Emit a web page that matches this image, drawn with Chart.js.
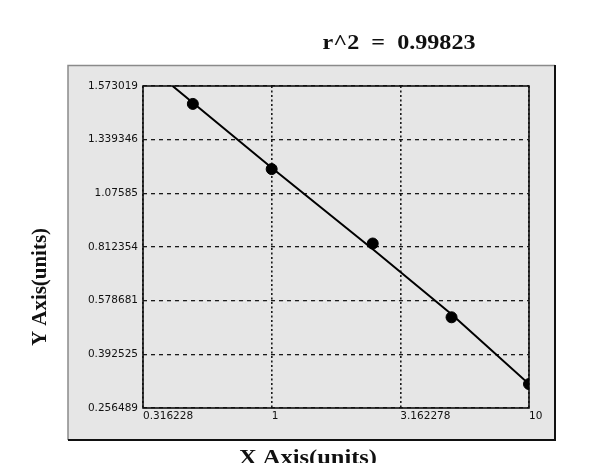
<!DOCTYPE html>
<html><head><meta charset="utf-8">
<script src="https://cdn.jsdelivr.net/npm/chart.js@4"></script>
<style>html,body{margin:0;padding:0;background:#fff;}canvas{display:block}</style>
</head><body>
<canvas id="c" width="600" height="463"></canvas>
<script>
const titleText = 'r^2  =  0.99823';
const xAxisTitle = 'X Axis(units)';
const yAxisTitle = 'Y Axis(units)';
const xTickValues = [0.316228, 1, 3.162278, 10];
const xTickLabels = ['0.316228', '1', '3.162278', '10'];
const yTickValues = [0.256489, 0.392525, 0.578681, 0.812354, 1.07585, 1.339346, 1.573019];
const yTickLabels = ['0.256489', '0.392525', '0.578681', '0.812354', '1.07585', '1.339346', '1.573019'];
const stdX = [0.494, 1, 2.47, 5.0, 10];
const stdY = [1.495, 1.195, 0.8295, 0.521, 0.3172];
const fitX = [0.412, 1, 2.5, 5, 10];
const fitY = [1.573, 1.2015, 0.798, 0.5314, 0.3171];

// map a real y value onto the evenly spaced tick axis (piecewise between labelled ticks)
function toAxis(v) {
  const t = yTickValues;
  let i = 0;
  while (i < t.length - 2 && v > t[i + 1]) i++;
  return i + (v - t[i]) / (t[i + 1] - t[i]);
}

const stdPoints = stdX.map((x, i) => ({x: x, y: toAxis(stdY[i])}));
const fitPoints = fitX.map((x, i) => ({x: x, y: toAxis(fitY[i])}));

function drawStretched(ctx, text, cx, y, targetW, font) {
  ctx.save();
  ctx.font = font;
  const w = ctx.measureText(text).width;
  const s = targetW / w;
  ctx.translate(cx, y);
  ctx.scale(s, 1);
  ctx.textAlign = 'center';
  ctx.textBaseline = 'alphabetic';
  ctx.fillStyle = '#111';
  ctx.fillText(text, 0, 0);
  ctx.restore();
}

const decor = {
  id: 'decor',
  beforeDraw(chart) {
    const ctx = chart.ctx;
    ctx.save();
    ctx.fillStyle = '#ffffff';
    ctx.fillRect(0, 0, chart.width, chart.height);
    ctx.fillStyle = '#e6e6e6';
    ctx.fillRect(68, 65, 487, 375);
    ctx.strokeStyle = '#8a8a8a';
    ctx.lineWidth = 1.5;
    ctx.beginPath();
    ctx.moveTo(68, 440); ctx.lineTo(68, 65.5); ctx.lineTo(555, 65.5);
    ctx.stroke();
    ctx.strokeStyle = '#111';
    ctx.lineWidth = 2;
    ctx.beginPath();
    ctx.moveTo(555, 65); ctx.lineTo(555, 440); ctx.lineTo(68, 440);
    ctx.stroke();
    ctx.restore();
  },
  beforeDatasetsDraw(chart) {
    const {ctx, chartArea: a} = chart;
    ctx.save();
    ctx.strokeStyle = '#111';
    ctx.lineWidth = 1.6;
    ctx.strokeRect(a.left, a.top, a.right - a.left, a.bottom - a.top);
    ctx.restore();
  },
  afterDraw(chart) {
    const ctx = chart.ctx;
    drawStretched(ctx, titleText, 399, 48.5, 153, 'bold 20px "Liberation Serif"');
    drawStretched(ctx, xAxisTitle, 308, 464, 138, 'bold 20px "Liberation Serif"');
    ctx.save();
    ctx.translate(45.5, 287);
    ctx.rotate(-Math.PI / 2);
    drawStretched(ctx, yAxisTitle, 0, 0, 118, 'bold 20px "Liberation Serif"');
    ctx.restore();
  }
};

new Chart(document.getElementById('c'), {
  type: 'scatter',
  data: {
    datasets: [
      {
        label: 'standards',
        data: stdPoints,
        backgroundColor: '#000',
        borderColor: '#000',
        pointRadius: 5.5,
        pointHoverRadius: 5.5,
        showLine: false,
        order: 0
      },
      {
        label: 'fit',
        data: fitPoints,
        showLine: true,
        borderColor: '#000',
        borderWidth: 2,
        pointRadius: 0,
        fill: false,
        order: 1
      }
    ]
  },
  options: {
    responsive: false,
    animation: false,
    events: [],
    layout: {padding: {left: 0, top: 86, right: 71, bottom: 35}},
    plugins: {legend: {display: false}, tooltip: {enabled: false}, title: {display: false}},
    scales: {
      x: {
        type: 'logarithmic',
        bounds: 'data',
        min: xTickValues[0],
        max: xTickValues[xTickValues.length - 1],
        afterBuildTicks: (scale) => { scale.ticks = xTickValues.map(v => ({value: v})); },
        afterFit: (scale) => { scale.height = 20; },
        ticks: {
          autoSkip: false,
          maxRotation: 0,
          align: 'start',
          padding: 2,
          color: '#111',
          font: {family: '"DejaVu Sans"', size: 10.5},
          callback: (v, i) => xTickLabels[i]
        },
        grid: {color: '#1a1a1a', lineWidth: 1.6, drawTicks: false},
        border: {display: false, dash: [2, 2.5]}
      },
      y: {
        type: 'linear',
        min: 0,
        max: yTickValues.length - 1,
        afterBuildTicks: (scale) => { scale.ticks = yTickValues.map((v, i) => ({value: i})); },
        afterFit: (scale) => { scale.width = 143; },
        ticks: {
          autoSkip: false,
          padding: 5,
          color: '#111',
          font: {family: '"DejaVu Sans"', size: 10.5},
          callback: (v, i) => yTickLabels[i]
        },
        grid: {color: '#1a1a1a', lineWidth: 1.3, drawTicks: false},
        border: {display: false, dash: [4, 4]}
      }
    }
  },
  plugins: [decor]
});
</script>
</body></html>
